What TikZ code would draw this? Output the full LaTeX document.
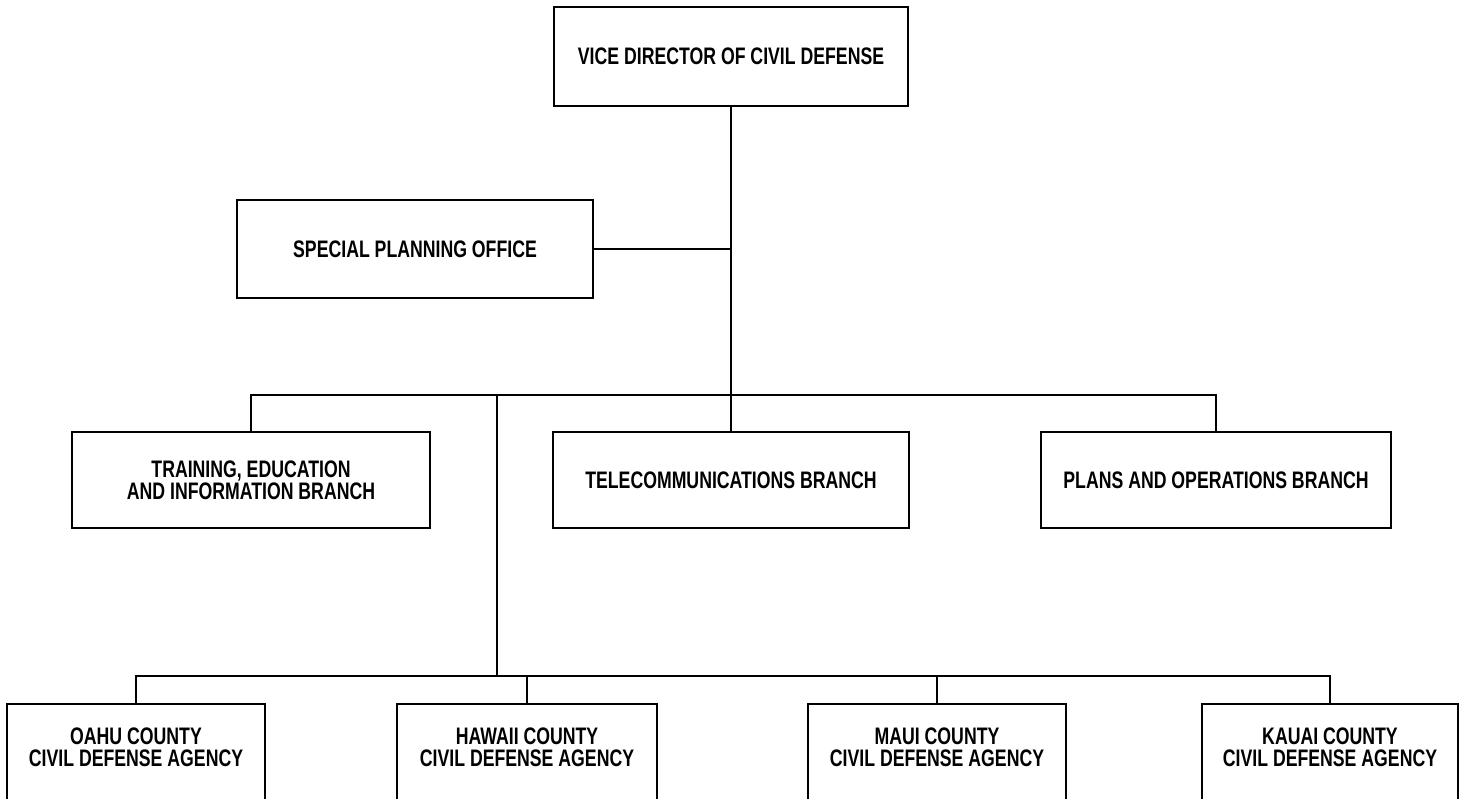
\documentclass[tikz,border=0pt]{standalone}
\usepackage{fontspec}
\setmainfont{Liberation Sans}[FakeStretch=0.74]
\begin{document}
\begin{tikzpicture}[x=0.02cm,y=-0.02cm,line width=0.9pt,
  every node/.style={font=\fontsize{13.6}{12.4}\selectfont\bfseries},
  unit/.style={draw,align=center,inner sep=0pt},
  branch/.style={unit,minimum height=1.92cm},
  county/.style={unit,anchor=north,text height=35.4pt,text depth=60pt}]
\useasboundingbox (0,0) rectangle (1462,798);
\clip (0,0) rectangle (1462,798);
\node [unit,minimum width=7.08cm,minimum height=1.98cm] (vice) at (731,56.5) {VICE DIRECTOR OF CIVIL DEFENSE};
\node [unit,minimum width=7.12cm,minimum height=1.96cm] (spo) at (415,249) {SPECIAL PLANNING OFFICE};
\node [branch,minimum width=7.16cm] (train) at (251,480) {TRAINING, EDUCATION\\AND INFORMATION BRANCH};
\node [branch,minimum width=7.12cm] (telecom) at (731,480) {TELECOMMUNICATIONS BRANCH};
\node [branch,minimum width=7cm] (plans) at (1216,480) {PLANS AND OPERATIONS BRANCH};
\node [county,minimum width=5.16cm] (oahu) at (136,703) {OAHU COUNTY\\CIVIL DEFENSE AGENCY};
\node [county,minimum width=5.2cm] (hawaii) at (527,703) {HAWAII COUNTY\\CIVIL DEFENSE AGENCY};
\node [county,minimum width=5.16cm] (maui) at (937,703) {MAUI COUNTY\\CIVIL DEFENSE AGENCY};
\node [county,minimum width=5.12cm] (kauai) at (1330,703) {KAUAI COUNTY\\CIVIL DEFENSE AGENCY};
\coordinate (bus) at (731,395);
\coordinate (tap) at (497,395);
\coordinate (cbus) at (497,676);
\draw [black] (vice.south) -- (telecom.north);
\draw [black] (spo.east) -- (vice.south |- spo.east);
\draw [black] (train.north) |- (bus) -| (plans.north);
\draw [black] (tap) -- (cbus);
\draw [black] (oahu.north) |- (cbus) -| (kauai.north);
\draw [black] (hawaii.north) -- (hawaii.north |- cbus);
\draw [black] (maui.north) -- (maui.north |- cbus);
\end{tikzpicture}
\end{document}
